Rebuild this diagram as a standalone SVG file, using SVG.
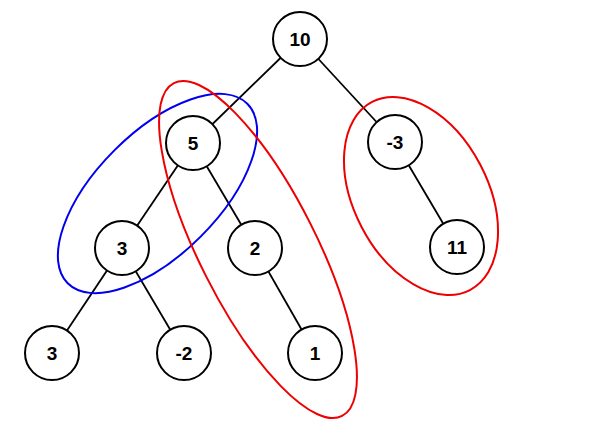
<svg xmlns="http://www.w3.org/2000/svg" width="605" height="445" viewBox="0 0 605 445">
<style>
.n circle{fill:#fff;stroke:#000;stroke-width:2}
.n text{font-family:"Liberation Sans",Arial,sans-serif;font-weight:bold;font-size:19px;text-anchor:middle;fill:#000}
.e line{stroke:#000;stroke-width:1.8}
.g{fill:none;stroke-width:2}
</style>
<rect width="605" height="445" fill="#fff"/>
<g id="connectors" class="e">
<line x1="300" y1="39" x2="193" y2="143"/>
<line x1="300" y1="39" x2="395" y2="142"/>
<line x1="193" y1="143" x2="122" y2="248"/>
<line x1="193" y1="143" x2="255" y2="248"/>
<line x1="395" y1="142" x2="457" y2="247"/>
<line x1="122" y1="248" x2="52" y2="353"/>
<line x1="122" y1="248" x2="184" y2="353"/>
<line x1="255" y1="248" x2="315" y2="353"/>
</g>
<g id="nodes">
<g id="n10" class="n"><circle cx="300" cy="39" r="27"/><text x="300" y="46">10</text></g>
<g id="n5" class="n"><circle cx="193" cy="143" r="27"/><text x="193" y="150">5</text></g>
<g id="nm3" class="n"><circle cx="395" cy="142" r="27"/><text x="395" y="149">-3</text></g>
<g id="n3a" class="n"><circle cx="122" cy="248" r="27"/><text x="122" y="255">3</text></g>
<g id="n2" class="n"><circle cx="255" cy="248" r="27"/><text x="255" y="255">2</text></g>
<g id="n11" class="n"><circle cx="457" cy="247" r="27"/><text x="457" y="254">11</text></g>
<g id="n3b" class="n"><circle cx="52" cy="353" r="27"/><text x="52" y="360">3</text></g>
<g id="nm2" class="n"><circle cx="184" cy="353" r="27"/><text x="184" y="360">-2</text></g>
<g id="n1" class="n"><circle cx="315" cy="353" r="27"/><text x="315" y="360">1</text></g>
</g>
<g id="groups">
<ellipse class="g" stroke="#0000ee" cx="157.5" cy="193.5" rx="127" ry="61" transform="rotate(-45 157.5 193.5)"/>
<ellipse class="g" stroke="#ee0000" cx="258" cy="249.5" rx="186.5" ry="58.4" transform="rotate(63.2 258 249.5)"/>
<ellipse class="g" stroke="#ee0000" cx="421" cy="196" rx="106" ry="67" transform="rotate(62.5 421 196)"/>
</g>
</svg>
